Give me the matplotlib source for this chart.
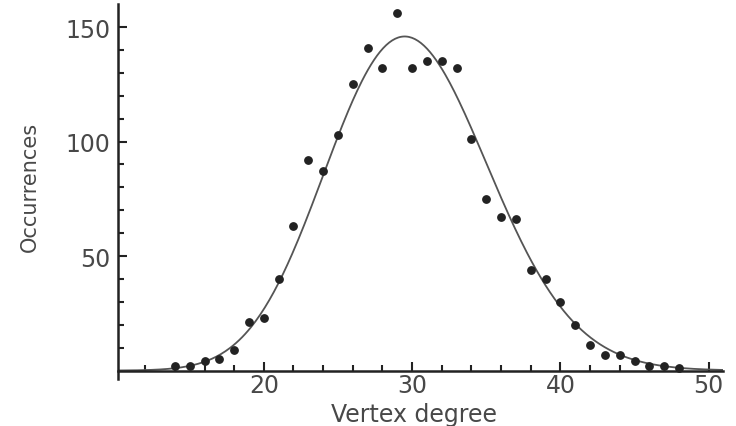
"""
Vertex degree distribution: observed occurrences (dots) with Poisson fit (line).
"""

import math

import matplotlib
matplotlib.use("Agg")
import matplotlib.pyplot as plt
import numpy as np
from matplotlib.ticker import MultipleLocator, FixedLocator

# ── data ─────────────────────────────────────────────────────────────────────
DEGREES = [14, 15, 16, 17, 18, 19, 20, 21, 22, 23, 24, 25, 26, 27, 28, 29, 30,
           31, 32, 33, 34, 35, 36, 37, 38, 39, 40, 41, 42, 43, 44, 45, 46, 47, 48]
COUNTS = [2, 2, 4, 5, 9, 21, 23, 40, 63, 92, 87, 103, 125, 141, 132, 156, 132,
          135, 135, 132, 101, 75, 67, 66, 44, 40, 30, 20, 11, 7, 7, 4, 2, 2, 1]

# fit: N vertices, Poisson mean degree
FIT_N = 2000
FIT_LAMBDA = 30.0

X_TICKS = [20, 30, 40, 50]
Y_TICKS = [50, 100, 150]

TEXT_C = "#484848"
AX_C = "#222222"


def poisson_curve(x, n, lam):
    return np.array([n * math.exp(-lam + k * math.log(lam) - math.lgamma(k + 1)) for k in x])


fig = plt.figure(figsize=(7.36, 4.27), dpi=100)
ax = fig.add_axes([0.160, 0.110, 0.822, 0.878])

xs = np.linspace(10.15, 50.95, 400)
ax.plot(xs, poisson_curve(xs, FIT_N, FIT_LAMBDA), color="#555555", lw=1.3, zorder=2)
ax.plot(DEGREES, COUNTS, "o", color=AX_C, ms=5.3, mec=AX_C, zorder=3)

ax.set_xlim(10.15, 50.95)
ax.set_ylim(-3.7, 160)

for s in ("top", "right"):
    ax.spines[s].set_visible(False)
ax.spines["bottom"].set_position(("data", 0))
for s in ("left", "bottom"):
    ax.spines[s].set_color(AX_C)
    ax.spines[s].set_linewidth(1.8)

ax.xaxis.set_major_locator(FixedLocator(X_TICKS))
ax.xaxis.set_minor_locator(MultipleLocator(2))
ax.yaxis.set_major_locator(FixedLocator(Y_TICKS))
ax.yaxis.set_minor_locator(FixedLocator(list(range(10, 151, 10))))

ax.tick_params(which="both", direction="in", color=AX_C, width=1.5)
ax.tick_params(which="major", length=6.5)
ax.tick_params(which="minor", length=4.5)
ax.tick_params(axis="x", which="major", labelsize=17, labelcolor=TEXT_C, pad=2)
ax.tick_params(axis="y", which="major", labelsize=17, labelcolor=TEXT_C, pad=5.5)

ax.set_xlabel("Vertex degree", fontsize=17, color=TEXT_C)
ax.set_ylabel("Occurrences", fontsize=15, color=TEXT_C)
ax.xaxis.set_label_coords(0.49, -0.060)
ax.yaxis.set_label_coords(-0.128, 0.515)

fig.savefig("out.png", dpi=100)
